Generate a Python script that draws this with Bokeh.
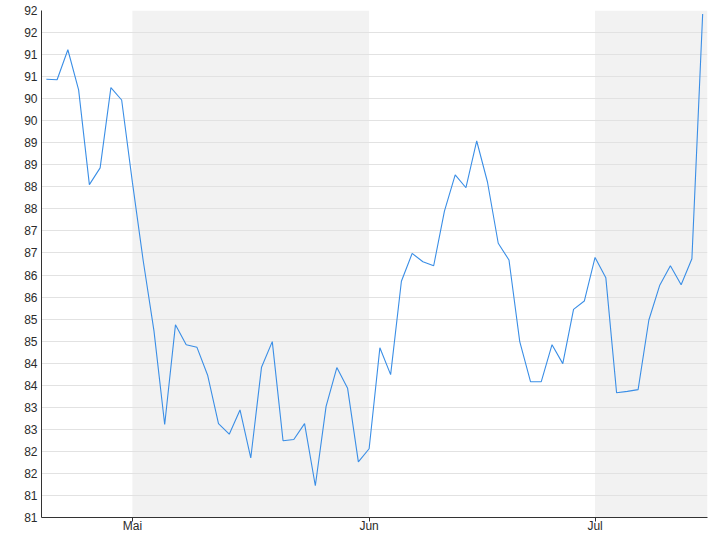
from bokeh.plotting import figure
from bokeh.models import FixedTicker, BoxAnnotation, Range1d
from bokeh.embed import file_html
from bokeh.resources import INLINE

# Daily closing values (trading-day index on x)
prices = [
    90.44, 90.43, 91.11, 90.20, 88.05, 88.43, 90.25, 89.97,
    88.10, 86.33, 84.74, 82.61, 84.87, 84.42, 84.36, 83.72, 82.63, 82.39,
    82.94, 81.85, 83.91, 84.49, 82.24, 82.27, 82.63, 81.22, 83.02, 83.90,
    83.43, 81.76,
    82.06, 84.35, 83.74, 85.86, 86.49, 86.30, 86.21, 87.45, 88.27, 87.98,
    89.04, 88.11, 86.72, 86.34, 84.49, 83.58, 83.58, 84.42, 83.99, 85.22,
    85.41,
    86.40, 85.94, 83.33, 83.36, 83.40, 84.98, 85.76, 86.21, 85.78, 86.37,
    91.92,
]
day_index = list(range(len(prices)))

# first trading day of each month (index into prices)
month_labels = ["Mai", "Jun", "Jul"]
month_start = [8, 30, 51]

y_ticks = [80.5, 81.0, 81.5, 82.0, 82.5, 83.0, 83.5, 84.0, 84.5, 85.0, 85.5, 86.0,
           86.5, 87.0, 87.5, 88.0, 88.5, 89.0, 89.5, 90.0, 90.5, 91.0, 91.5, 92.0]
y_tick_labels = ["81", "81", "82", "82", "83", "83", "84", "84", "85", "85", "86", "86",
                 "87", "87", "88", "88", "89", "89", "90", "90", "91", "91", "92", "92"]

FONT = "Liberation Sans"
TEXT = "#2b2b2b"

p = figure(
    output_backend="svg",
    toolbar_location=None,
    frame_width=666,
    frame_height=507,
    min_border_left=41,
    min_border_top=10,
    min_border_right=5,
    min_border_bottom=4,
    x_range=Range1d(-0.45, len(prices) - 1 + 0.45),
    y_range=Range1d(y_ticks[0], y_ticks[-1]),
    background_fill_color="white",
    border_fill_color="white",
    margin=0,
)
p.outline_line_color = None

# alternating month bands (May and July shaded)
p.add_layout(BoxAnnotation(left=month_start[0], right=month_start[1],
                           fill_color="#f2f2f2", fill_alpha=1.0,
                           line_color=None, level="image"))
p.add_layout(BoxAnnotation(left=month_start[2],
                           fill_color="#f2f2f2", fill_alpha=1.0,
                           line_color=None, level="image"))

p.line(day_index, prices, line_color="#3a8ee6", line_width=1.1)

# grids
p.xgrid.visible = False
p.ygrid.grid_line_color = "#e2e2e2"
p.ygrid.grid_line_width = 1

# y axis
p.yaxis.ticker = FixedTicker(ticks=y_ticks)
p.yaxis.major_label_overrides = {t: l for t, l in zip(y_ticks, y_tick_labels)}
p.yaxis.major_tick_out = 0
p.yaxis.major_tick_in = 0
p.yaxis.minor_tick_out = 0
p.yaxis.minor_tick_in = 0
p.yaxis.major_label_standoff = 4

# x axis
p.xaxis.ticker = FixedTicker(ticks=month_start)
p.xaxis.major_label_overrides = {s: l for s, l in zip(month_start, month_labels)}
p.xaxis.major_tick_out = 4
p.xaxis.major_tick_in = 0
p.xaxis.minor_tick_out = 0
p.xaxis.minor_tick_in = 0
p.xaxis.major_label_standoff = -3

for ax in (p.xaxis, p.yaxis):
    ax.axis_line_color = "#333333"
    ax.axis_line_width = 1
    ax.major_tick_line_color = "#333333"
    ax.major_label_text_font = FONT
    ax.major_label_text_font_size = "12px"
    ax.major_label_text_color = TEXT

open("out.html", "w").write(file_html(p, INLINE))
